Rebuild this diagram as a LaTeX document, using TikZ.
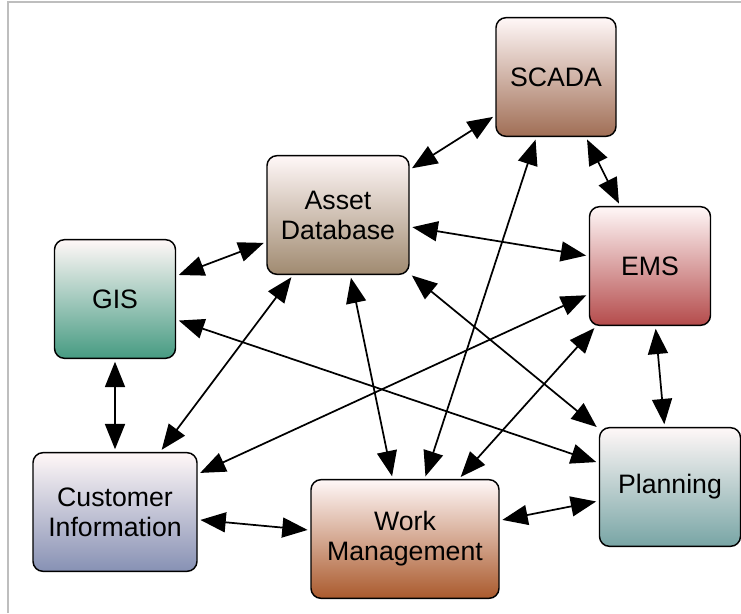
\documentclass[tikz,border=0pt]{standalone}
\usepackage{fontspec}
\setmainfont{Liberation Sans}
\usetikzlibrary{arrows.meta}

\definecolor{scadaC}{RGB}{160,110,85}
\definecolor{assetC}{RGB}{160,138,112}
\definecolor{emsC}{RGB}{180,75,75}
\definecolor{gisC}{RGB}{70,155,130}
\definecolor{custC}{RGB}{135,145,180}
\definecolor{workC}{RGB}{170,90,45}
\definecolor{planC}{RGB}{120,165,165}
\definecolor{frameC}{RGB}{190,190,190}

\begin{document}
\begin{tikzpicture}[x=0.75pt, y=-0.75pt,
    box/.style={draw=black, line width=1.1pt, rounded corners=7.5pt, minimum height=89pt, align=center, font=\fontsize{20}{22.5}\selectfont, top color=white!97!red},
    link/.style={{Triangle[length=19pt,width=15pt]}-{Triangle[length=19pt,width=15pt]}, line width=1.3pt, shorten <=2pt, shorten >=2pt}]
    \useasboundingbox (0,0) rectangle (741,613);
    \draw[frameC, line width=1.5pt] (8,613) -- (8,2.5) -- (741,2.5);

    % systems
    \node[box, bottom color=scadaC, minimum width=90pt] (scada) at (556,77) {SCADA};
    \node[box, bottom color=assetC, minimum width=106.5pt] (asset) at (338,215) {Asset\\Database};
    \node[box, bottom color=emsC, minimum width=90.75pt] (ems) at (650,266) {EMS};
    \node[box, bottom color=gisC, minimum width=90.75pt] (gis) at (115,299) {GIS};
    \node[box, bottom color=custC, minimum width=123pt] (cust) at (115,512) {Customer\\Information};
    \node[box, bottom color=workC, minimum width=141pt] (work) at (405,539) {Work\\Management};
    \node[box, bottom color=planC, minimum width=105.75pt] (plan) at (670,487) {Planning};

    % interfaces
    \foreach \a/\b in {scada/asset, scada/ems, asset/ems, gis/asset, gis/plan, gis/cust, asset/cust, ems/cust,
                       asset/work, scada/work, ems/work, asset/plan, ems/plan, cust/work, work/plan}
      \draw[link] (\a) -- (\b);
\end{tikzpicture}
\end{document}
